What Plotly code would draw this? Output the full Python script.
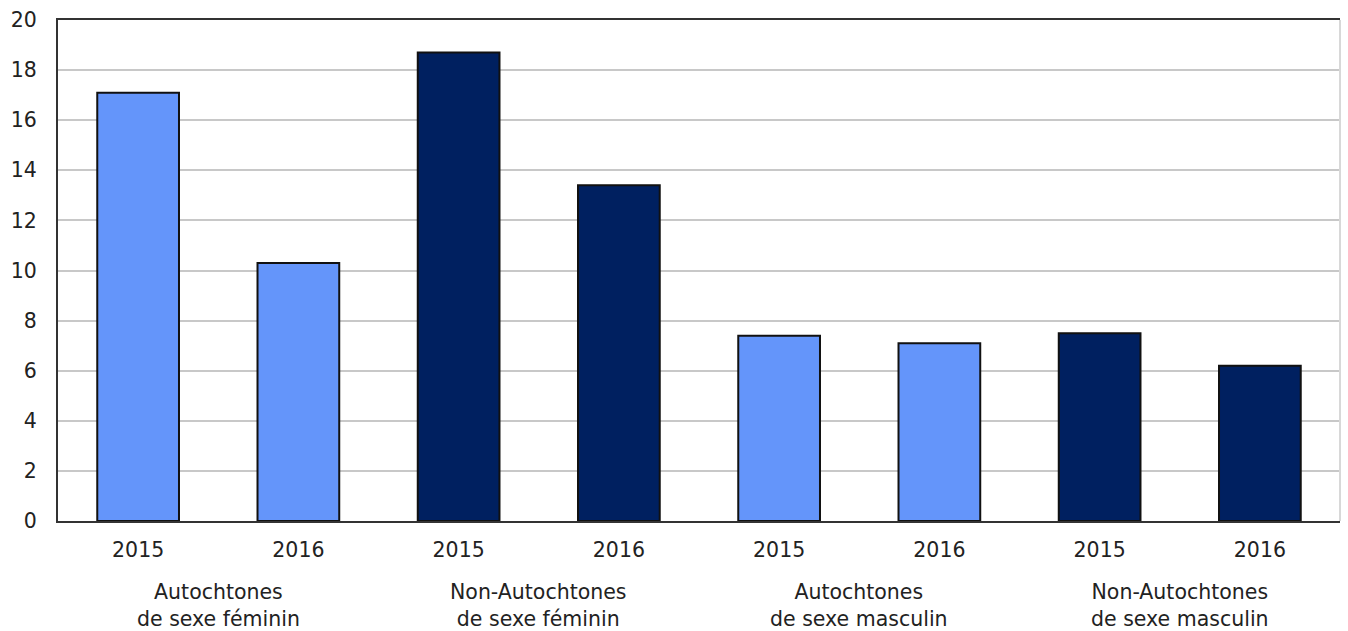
import plotly.graph_objects as go

# Données
groupes = [
    "Autochtones<br>de sexe féminin",
    "Non-Autochtones<br>de sexe féminin",
    "Autochtones<br>de sexe masculin",
    "Non-Autochtones<br>de sexe masculin",
]
annees = ["2015", "2016"]
valeurs = [17.1, 10.3, 18.7, 13.4, 7.4, 7.1, 7.5, 6.2]
couleurs_groupes = ["#6495fa", "#002060", "#6495fa", "#002060"]

positions = list(range(len(valeurs)))
couleurs = [couleurs_groupes[i // 2] for i in positions]
etiquettes = [annees[i % 2] for i in positions]

police = "DejaVu Sans, Verdana, sans-serif"

fig = go.Figure(
    go.Bar(
        x=positions,
        y=valeurs,
        width=0.51,
        marker=dict(color=couleurs, line=dict(color="#111111", width=2)),
        hoverinfo="y",
    )
)

# Étiquettes des groupes sous les années
for g, texte in enumerate(groupes):
    fig.add_annotation(
        x=2 * g + 0.5, y=-0.114, xref="x", yref="paper",
        text=texte, showarrow=False, yanchor="top",
        font=dict(family=police, size=20.5, color="#222222"),
    )

# Bordure droite claire
fig.add_shape(type="line", xref="paper", yref="paper", x0=1, x1=1, y0=0, y1=1,
              line=dict(color="#d8d8d8", width=2))

fig.update_layout(
    width=1348, height=631,
    margin=dict(l=58, r=8, t=17, b=110),
    paper_bgcolor="white", plot_bgcolor="white",
    showlegend=False,
    font=dict(family=police, size=20.5, color="#222222"),
    xaxis=dict(
        range=[-0.5, 7.5], tickmode="array", tickvals=positions, ticktext=etiquettes,
        showgrid=False, showline=True, linecolor="#333333", linewidth=2, mirror=True,
        ticks="", ticklabelstandoff=9, zeroline=False,
    ),
    yaxis=dict(
        range=[0, 20], dtick=2, showgrid=True, gridcolor="#c8c8c8", gridwidth=2,
        showline=True, linecolor="#333333", linewidth=2, ticks="",
        ticklabelstandoff=15, zeroline=False,
    ),
)

fig.write_html("out.html")
